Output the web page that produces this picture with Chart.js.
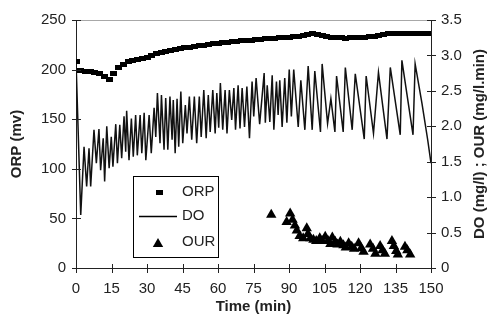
<!DOCTYPE html>
<html><head><meta charset="utf-8">
<script src="https://cdn.jsdelivr.net/npm/chart.js@4.4.1/dist/chart.umd.min.js"></script>
<style>html,body{margin:0;padding:0;background:#fff}</style>
</head><body>
<canvas id="c" width="489" height="324" style="width:489px;height:324px;display:block"></canvas>
<script>
// ---- data ----
const orpTime = [0,2,4,6,8,10,12,14,16,18,20,22,24,26,28,30,32,34,36,38,40,42,44,46,48,50,52,54,56,58,60,62,64,66,68,70,72,74,76,78,80,82,84,86,88,90,92,94,96,98,100,102,104,106,108,110,112,114,116,118,120,122,124,126,128,130,132,134,136,138,140,142,144,146,148,150];
const orpValue = [208,199,198,198,197,196,193,190,196,202,205,208,209,210,211,212,214,216,217,218,219,220,221,222,222,223,224,224,225,226,226,227,227,228,228,229,229,229,230,230,231,231,231,232,232,232,233,233,234,235,236,235,234,233,232,232,232,231,232,232,232,232,233,233,234,235,236,236,236,236,236,236,236,236,236,236];

const doTime = [0,2.0,3.4,4.5,5.5,6.2,7.6,8.6,9.7,10.4,11.5,12.1,13.0,14.0,14.9,15.6,16.8,17.5,18.5,19.3,20.3,21.0,21.4,22.4,23.4,24.2,25.2,25.9,27.1,27.8,28.8,29.5,30.9,31.8,33.0,33.7,34.4,35.5,36.1,37.2,37.9,38.8,39.7,40.6,41.1,41.9,42.7,43.4,44.3,45.1,46.2,46.9,47.9,48.9,50.0,51.0,52.1,52.9,54.0,55.0,55.9,56.7,57.8,58.8,59.5,60.3,61.0,62.0,63.0,63.8,64.8,65.8,66.7,67.4,68.5,69.3,70.2,71.2,72.2,73.3,74.4,75.1,76.1,77.6,79.5,80.0,80.8,81.9,82.9,83.6,84.7,85.4,86.1,87.1,88.2,89.1,90.1,91.0,92.0,93.9,95.0,96.7,98.1,99.8,100.9,103.3,104.0,106.3,107.7,109.4,110.1,112.9,113.8,116.7,118.0,121.8,122.6,125.7,127.8,131.4,132.8,137.0,137.7,142.4,143.3,146.2,148.6,150.0];
const doValue = [2.93,0.75,1.71,1.15,1.69,1.15,1.95,1.48,1.96,1.38,1.83,1.22,2.00,1.41,1.85,1.43,2.03,1.48,2.02,1.55,2.14,1.64,2.22,1.52,2.11,1.57,2.16,1.59,2.16,1.62,2.19,1.52,2.16,1.62,2.26,1.85,2.47,1.76,2.44,1.67,2.40,1.67,2.42,1.81,2.37,1.62,2.39,1.71,2.49,1.76,2.30,1.90,2.42,1.81,2.42,1.76,2.42,1.85,2.51,1.83,2.44,1.92,2.51,1.90,2.47,1.98,2.61,1.95,2.51,1.90,2.51,2.09,2.54,1.95,2.58,1.97,2.54,1.99,2.56,1.83,2.63,2.14,2.68,2.03,2.75,2.05,2.58,2.06,2.72,1.95,2.63,2.16,2.65,1.99,2.68,2.05,2.80,2.14,2.80,1.99,2.65,1.95,2.85,1.95,2.78,1.92,2.88,2.04,2.39,1.92,2.71,1.92,2.83,1.95,2.74,1.82,2.71,1.90,2.76,1.82,2.83,1.88,2.93,1.88,2.88,2.32,1.81,1.48];

const ourTime = [82.5,89.0,90.5,91.5,92.5,93.3,94.5,96.0,97.5,98.0,99.0,100.3,101.5,103.0,104.0,105.3,106.5,107.5,108.3,109.5,110.5,111.7,113.0,114.0,115.2,116.5,117.5,119.4,120.5,121.5,124.3,125.5,126.5,128.5,129.5,130.5,133.5,134.3,135.3,136.0,139.0,140.0,141.2];
const ourValue = [0.75,0.65,0.77,0.68,0.60,0.53,0.45,0.42,0.56,0.48,0.42,0.40,0.38,0.42,0.38,0.44,0.38,0.34,0.43,0.37,0.33,0.37,0.32,0.29,0.35,0.30,0.27,0.35,0.28,0.23,0.33,0.27,0.20,0.31,0.25,0.20,0.38,0.31,0.24,0.19,0.30,0.25,0.19];

const xTickValues = [0,15,30,45,60,75,90,105,120,135,150];
const leftTickValues = [0,50,100,150,200,250];
const rightTickValues = [0,0.5,1,1.5,2,2.5,3,3.5];

const xTitle = 'Time (min)';
const leftTitle = 'ORP (mv)';
const rightTitle = 'DO (mg/l) ; OUR (mg/l.min)';
const seriesNames = ['ORP','DO','OUR'];

// ---- styles ----
const FONT = '"Liberation Sans", Arial, Helvetica, sans-serif';
const TXT = '#222';
const AX = '#222';

const orpMark = document.createElement('canvas');
orpMark.width = 7; orpMark.height = 5;
(function(){const g = orpMark.getContext('2d'); g.fillStyle = '#000'; g.fillRect(0,0,7,5);})();

const toPts = (xs, ys) => xs.map((x,i)=>({x:x, y:ys[i]}));

const crossTicks = {
  id: 'crossTicks',
  afterDraw(chart) {
    const ctx = chart.ctx, a = chart.chartArea;
    ctx.save();
    ctx.lineWidth = 1;
    ctx.beginPath(); ctx.strokeStyle = '#a8a8a8';
    ctx.moveTo(a.left, a.top + 0.5); ctx.lineTo(a.right, a.top + 0.5); ctx.stroke();
    ctx.strokeStyle = AX;
    const sx = chart.scales.x, yl = chart.scales.yL, yr = chart.scales.yR;
    ctx.beginPath();
    xTickValues.forEach(v => { const p = Math.round(sx.getPixelForValue(v)) + 0.5; ctx.moveTo(p, a.bottom - 4); ctx.lineTo(p, a.bottom + 5); });
    leftTickValues.forEach(v => { const p = Math.round(yl.getPixelForValue(v)) + 0.5; ctx.moveTo(a.left - 4, p); ctx.lineTo(a.left + 5, p); });
    rightTickValues.forEach(v => { const p = Math.round(yr.getPixelForValue(v)) + 0.5; ctx.moveTo(a.right - 4, p); ctx.lineTo(a.right + 5, p); });
    ctx.stroke();
    ctx.fillStyle = TXT;
    ctx.font = 'bold 15px ' + FONT;
    ctx.textAlign = 'center'; ctx.textBaseline = 'middle';
    ctx.translate(480, (a.top + a.bottom) / 2);
    ctx.rotate(-Math.PI / 2);
    ctx.fillText(rightTitle, 0, 0);
    ctx.restore();
  }
};

const legendBox = {
  id: 'legendBox',
  afterDatasetsDraw(chart) {
    const ctx = chart.ctx;
    ctx.save();
    ctx.fillStyle = '#fff';
    ctx.fillRect(133, 176, 85, 81);
    ctx.strokeStyle = '#000'; ctx.lineWidth = 1;
    ctx.strokeRect(133.5, 176.5, 85, 81);
    ctx.drawImage(orpMark, 159 - 3, 192 - 2);
    ctx.beginPath(); ctx.moveTo(139, 216.5); ctx.lineTo(177, 216.5); ctx.lineWidth = 1.3; ctx.stroke();
    const r = 6, cx = 158, cy = 244;
    ctx.beginPath();
    ctx.moveTo(cx, cy - r);
    ctx.lineTo(cx + Math.sin(2*Math.PI/3)*r, cy - Math.cos(2*Math.PI/3)*r);
    ctx.lineTo(cx + Math.sin(4*Math.PI/3)*r, cy - Math.cos(4*Math.PI/3)*r);
    ctx.closePath(); ctx.fillStyle = '#000'; ctx.fill();
    ctx.fillStyle = TXT; ctx.font = '15px ' + FONT;
    ctx.textAlign = 'left'; ctx.textBaseline = 'middle';
    ctx.fillText(seriesNames[0], 182, 192);
    ctx.fillText(seriesNames[1], 182, 216);
    ctx.fillText(seriesNames[2], 182, 242);
    ctx.restore();
  }
};

new Chart(document.getElementById('c'), {
  type: 'scatter',
  data: {
    datasets: [
      { label: seriesNames[0], data: toPts(orpTime, orpValue), yAxisID: 'yL', showLine: false,
        pointStyle: orpMark, pointRadius: 3, borderColor: '#000', backgroundColor: '#000' },
      { label: seriesNames[1], data: toPts(doTime, doValue), yAxisID: 'yR', showLine: true,
        borderColor: '#111', borderWidth: 1.5, pointRadius: 0, tension: 0, fill: false },
      { label: seriesNames[2], data: toPts(ourTime, ourValue), yAxisID: 'yR', showLine: false,
        pointStyle: 'triangle', pointRadius: 6, borderWidth: 0, borderColor: '#000', backgroundColor: '#000' }
    ]
  },
  options: {
    responsive: false,
    devicePixelRatio: 1,
    animation: false,
    layout: { padding: { top: 20, left: 0, right: 0, bottom: 0 } },
    plugins: { legend: { display: false }, tooltip: { enabled: false } },
    scales: {
      x: {
        type: 'linear', min: 0, max: 150,
        afterFit(s) { s.height = 56; },
        afterBuildTicks(s) { s.ticks = xTickValues.map(v => ({ value: v })); },
        ticks: { color: TXT, font: { family: FONT, size: 15 }, padding: 12, maxRotation: 0, autoSkip: false },
        grid: { display: false, drawTicks: false },
        border: { display: true, color: AX, width: 1 },
        title: { display: true, text: xTitle, color: TXT, font: { family: FONT, size: 15, weight: 'bold' }, padding: { top: 0, bottom: 8 } }
      },
      yL: {
        position: 'left', min: 0, max: 250,
        afterFit(s) { s.width = 76; },
        afterBuildTicks(s) { s.ticks = leftTickValues.map(v => ({ value: v })); },
        ticks: { color: TXT, font: { family: FONT, size: 15 }, padding: 10 },
        grid: { display: false, drawTicks: false },
        border: { display: true, color: AX, width: 1 },
        title: { display: true, text: leftTitle, color: TXT, font: { family: FONT, size: 15, weight: 'bold' }, padding: { top: 8, bottom: 0 } }
      },
      yR: {
        position: 'right', min: 0, max: 3.5,
        afterFit(s) { s.width = 58; },
        afterBuildTicks(s) { s.ticks = rightTickValues.map(v => ({ value: v })); },
        ticks: { color: TXT, font: { family: FONT, size: 15 }, padding: 10 },
        grid: { display: false, drawTicks: false },
        border: { display: true, color: AX, width: 1 }
      }
    }
  },
  plugins: [crossTicks, legendBox]
});
</script>
</body></html>
